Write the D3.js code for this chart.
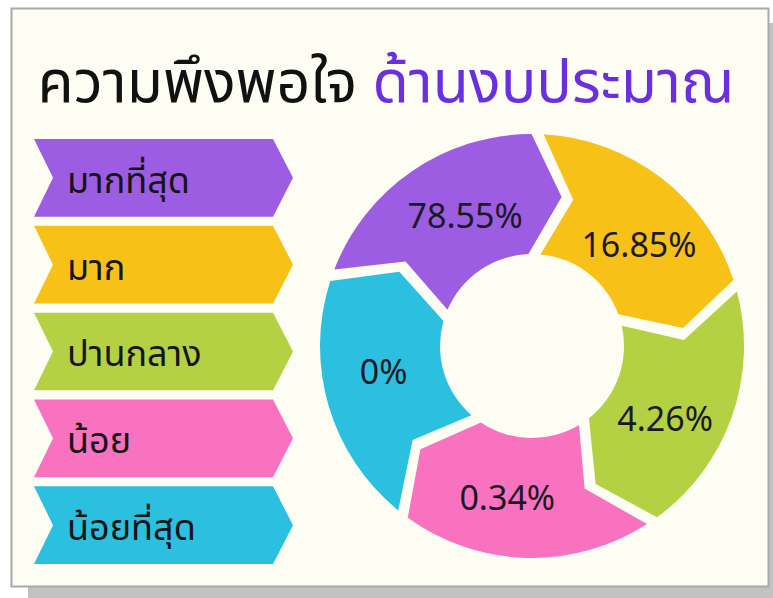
<!DOCTYPE html>
<html><head><meta charset="utf-8">
<script src="https://cdn.jsdelivr.net/npm/d3@7"></script>
<style>
html,body{margin:0;padding:0;background:#ffffff;}
svg{display:block;}
</style></head>
<body>
<svg id="chart" width="773" height="598"></svg>
<script>
const categories = ["มากที่สุด", "มาก", "ปานกลาง", "น้อย", "น้อยที่สุด"];
const values = [78.55, 16.85, 4.26, 0.34, 0];
const valueLabels = ["78.55%", "16.85%", "4.26%", "0.34%", "0%"];
const colors = ["#9d5de2", "#f7c118", "#b4d143", "#f872bf", "#2bc0df"];
const titleParts = ["ความพึงพอใจ ", "ด้านงบประมาณ"];

const svg = d3.select("#chart");
const W = 773, H = 598;

// card with shadow
svg.append("rect").attr("x", 28).attr("y", 23).attr("width", W - 28).attr("height", H - 23).attr("fill", "#c2c2c2");
svg.append("rect").attr("x", 11.5).attr("y", 8.5).attr("width", 757).attr("height", 578)
  .attr("fill", "#fdfdf3").attr("stroke", "#a9a9a9").attr("stroke-width", 2);

// title
const title = svg.append("text").attr("x", 386).attr("y", 102).attr("text-anchor", "middle")
  .attr("font-family", "'Noto Sans Thai', 'Noto Sans', sans-serif").attr("font-size", 59).attr("font-weight", 400)
  .attr("textLength", 697).attr("lengthAdjust", "spacingAndGlyphs");
title.append("tspan").attr("fill", "#111").text(titleParts[0]);
title.append("tspan").attr("fill", "#6a2fe0").text(titleParts[1]);

// legend
const y = d3.scaleBand().domain(categories).range([139, 564]).paddingInner(9 / 85);
const legend = svg.append("g");
const lg = legend.selectAll("g").data(categories).join("g")
  .attr("transform", d => `translate(34,${y(d)})`);
const bh = y.bandwidth();
lg.append("path")
  .attr("d", () => {
    const p = d3.path();
    p.moveTo(0, 0); p.lineTo(239, 0); p.lineTo(259, bh / 2); p.lineTo(239, bh); p.lineTo(0, bh); p.lineTo(19, bh / 2); p.closePath();
    return p.toString();
  })
  .attr("fill", (d, i) => colors[i]);
lg.append("text").attr("x", 33).attr("y", bh / 2 + 15)
  .attr("font-family", "'Noto Sans Thai', 'Noto Sans', sans-serif").attr("font-size", 36)
  .attr("fill", "#151515").text(d => d);

// donut
const cx = 532, cy = 346, R = 212, r = 92, rm = (R + r) / 2;
const h = 6; // half gap
const tip = 12 * Math.PI / 180;
const offset = 1.5 * Math.PI / 180;
const pie = d3.pie().value(() => 1).sort(null).startAngle(offset - 72 * Math.PI / 180).endAngle(offset + 288 * Math.PI / 180);
const arcs = pie(values);
const g = svg.append("g").attr("transform", `translate(${cx},${cy})`);
const pt = (rad, a) => [rad * Math.sin(a), -rad * Math.cos(a)];
function seg(d) {
  const a0 = d.startAngle, a1 = d.endAngle, Q = Math.PI / 2;
  const p = d3.path();
  p.moveTo(...pt(R, a0 + h / R));
  p.arc(0, 0, R, a0 + h / R - Q, a1 - h / R - Q);
  p.lineTo(...pt(rm, a1 + tip - h / rm));
  p.lineTo(...pt(r, a1 - h / r));
  p.arc(0, 0, r, a1 - h / r - Q, a0 + h / r - Q, true);
  p.lineTo(...pt(rm, a0 + tip + h / rm));
  p.closePath();
  return p.toString();
}
g.selectAll("path").data(arcs).join("path").attr("d", seg).attr("fill", (d, i) => colors[i]);

const labelArc = d3.arc().innerRadius(150).outerRadius(150);
g.selectAll("text").data(arcs).join("text")
  .attr("transform", d => {
    const sh = 8 * Math.PI / 180;
    const c = labelArc.centroid({startAngle: d.startAngle + sh, endAngle: d.endAngle + sh});
    return `translate(${c[0]},${c[1]})`;
  })
  .attr("text-anchor", "middle").attr("dy", "0.47em")
  .attr("font-family", "'Noto Sans', sans-serif").attr("font-size", 34).attr("font-weight", 400)
  .attr("fill", "#1b1a24").text((d, i) => valueLabels[i]);
</script>
</body></html>
